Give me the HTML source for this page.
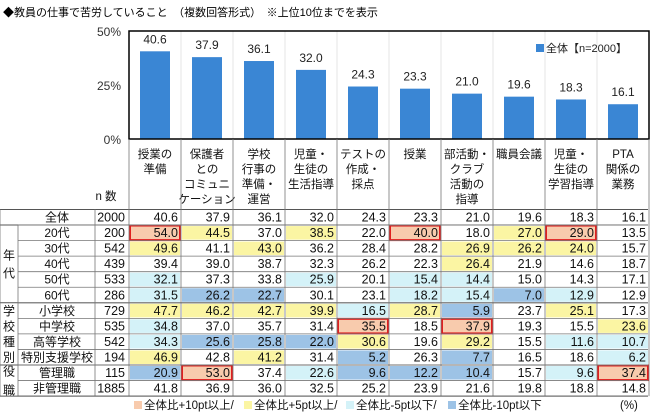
<!DOCTYPE html>
<html><head><meta charset="utf-8"><style>
body{margin:0;background:#fff;width:650px;height:413px;overflow:hidden}
svg{display:block;font-family:"Liberation Sans","Noto Sans CJK JP",sans-serif}
</style></head><body>
<svg id="c" width="650" height="413"></svg>
<script>
const categories=[["授業の","準備"],["保護者","との","コミュニ","ケーション"],["学校","行事の","準備・","運営"],["児童・","生徒の","生活指導"],["テストの","作成・","採点"],["授業"],["部活動・","クラブ","活動の","指導"],["職員会議"],["児童・","生徒の","学習指導"],["PTA","関係の","業務"]];
const totalValues=[40.6,37.9,36.1,32.0,24.3,23.3,21.0,19.6,18.3,16.1];
const yTicks=[0,25,50];
const rowLabels=["全体","20代","30代","40代","50代","60代","小学校","中学校","高等学校","特別支援学校","管理職","非管理職"];
const rowN=[2000,200,542,439,533,286,729,535,542,194,115,1885];
const rowValues=[
[40.6,37.9,36.1,32.0,24.3,23.3,21.0,19.6,18.3,16.1],
[54.0,44.5,37.0,38.5,22.0,40.0,18.0,27.0,29.0,13.5],
[49.6,41.1,43.0,36.2,28.4,28.2,26.9,26.2,24.0,15.7],
[39.4,39.0,38.7,32.3,26.2,22.3,26.4,21.9,14.6,18.7],
[32.1,37.3,33.8,25.9,20.1,15.4,14.4,15.0,14.3,17.1],
[31.5,26.2,22.7,30.1,23.1,18.2,15.4,7.0,12.9,12.9],
[47.7,46.2,42.7,39.9,16.5,28.7,5.9,23.7,25.1,17.3],
[34.8,37.0,35.7,31.4,35.5,18.5,37.9,19.3,15.5,23.6],
[34.3,25.6,25.8,22.0,30.6,19.6,29.2,15.5,11.6,10.7],
[46.9,42.8,41.2,31.4,5.2,26.3,7.7,16.5,18.6,6.2],
[20.9,53.0,37.4,22.6,9.6,12.2,10.4,15.7,9.6,37.4],
[41.8,36.9,36.0,32.5,25.2,23.9,21.6,19.8,18.8,14.8]];
const rowMarks=["----------","oy-y-o-yo-","y-y---yyy-","------y---","c--c-cc---","cbb--ccbc-","yyyycyb-y-","c---o-o--y","cbbby-y-cc","y-y-b-b--c","bo-cbbb-co","----------"];
const groups=[["年","代",1,5],["学","校","種","別",6,9],["役","職",10,11]];
const NS="http://www.w3.org/2000/svg",svg=document.getElementById('c');
function el(t,a,txt){const e=document.createElementNS(NS,t);for(const k in a)e.setAttribute(k,a[k]);if(txt!==undefined)e.textContent=txt;svg.appendChild(e);return e;}
const X0=129,CW=52,PT=31,PB=139;
const colX=i=>X0+i*CW, colC=i=>X0+i*CW+CW/2;
const yS=v=>PB-(v/50)*(PB-PT);
let t=el('text',{x:3,y:16,'font-size':11,fill:'#000'},'◆教員の仕事で苦労していること　（複数回答形式）　※上位10位までを表示');


for(let i=1;i<10;i++){const l=el('line',{x1:colX(i),x2:colX(i),y1:PT,y2:PB,stroke:'#e4e4e4'});}
yTicks.forEach(v=>{const tt=el('text',{x:121,y:yS(v)+5,'font-size':12,'text-anchor':'end',fill:'#333'},v+'%');});
totalValues.forEach((v,i)=>{
 const b=el('rect',{x:colC(i)-15,y:yS(v),width:30,height:PB-yS(v),fill:'#3a86d4'});
 
 
 const lb=el('text',{x:colC(i),y:yS(v)-8,'font-size':12,'text-anchor':'middle',fill:'#222'},v.toFixed(1));
 
 
});
let pb=el('rect',{x:X0,y:PT,width:CW*10,height:PB-PT,fill:'none',stroke:'#000','stroke-width':1.5});

let lg=el('rect',{x:536,y:44,width:8,height:8,fill:'#3a86d4'});
let lt=el('text',{x:546,y:52,'font-size':11,fill:'#222'},'全体【n=2000】');
const RT=209.5,RH=15.55,TB=RT+RH*12;
const fills={o:'#f8cbad',y:'#fbf5a3',c:'#d4f2f8',b:'#9dc3e6'};
categories.forEach((lines,i)=>{lines.forEach((s,j)=>{const h=el('text',{x:colC(i),y:158+j*15,'font-size':11.5,'text-anchor':'middle',fill:'#111'},s);});});
let nh=el('text',{x:106,y:200,'font-size':11.5,'text-anchor':'middle',fill:'#111'},'n 数');
rowValues.forEach((row,r)=>{
 const y=RT+r*RH;
 row.forEach((v,i)=>{
  const m=rowMarks[r][i];
  if(m!=='-'){const f=el('rect',{x:colX(i)+1,y:y+1,width:CW-2,height:RH-2,fill:fills[m]});}
  if(m==='o'){const f=el('rect',{x:colX(i)+1,y:y+0.5,width:CW-2,height:RH-1,fill:'none',stroke:'#e02020','stroke-width':2});}
  const c=el('text',{x:colX(i)+CW-3,y:y+12,'font-size':12.5,'text-anchor':'end',fill:'#111'},v.toFixed(1));
  
  
 });
 const n=el('text',{x:125,y:y+12,'font-size':12.5,'text-anchor':'end',fill:'#111'},rowN[r]);
 
 const rl=el('text',{x:57,y:y+12,'font-size':12,'text-anchor':'middle',fill:'#111'},rowLabels[r]);
 
});
groups.forEach(g=>{const a=g[g.length-2],b=g[g.length-1],chars=g.slice(0,g.length-2);
 const top=RT+a*RH,bot=RT+(b+1)*RH,mid=(top+bot)/2,step=chars.length===4?15.5:(b-a>2?18:19);
 chars.forEach((ch,k)=>{const cy=mid+(k-(chars.length-1)/2)*step;const gt=el('text',{x:9,y:cy+4.5,'font-size':12,'text-anchor':'middle',fill:'#111'},ch);});
 const gl=el('line',{x1:0,x2:648,y1:top,y2:top,stroke:'#555'});
});
for(let r=1;r<=12;r++){const y=RT+r*RH;const l=el('line',{x1:18,x2:648,y1:y,y2:y,stroke:'#777','stroke-width':0.8});}
let tl=el('line',{x1:0,x2:648,y1:RT,y2:RT,stroke:'#555'});
for(let i=0;i<=10;i++){const l=el('line',{x1:colX(i),x2:colX(i),y1:PB,y2:TB,stroke:'#777','stroke-width':0.8});}
[[0,RT],[18,RT+RH],[95,RT]].forEach(p=>{const l=el('line',{x1:p[0],x2:p[0],y1:p[1],y2:TB,stroke:'#777','stroke-width':0.8});});
let bl=el('line',{x1:0,x2:648,y1:TB,y2:TB,stroke:'#555'});
const fl=[['o','全体比+10pt以上/'],['y','全体比+5pt以上/'],['c','全体比-5pt以下/'],['b','全体比-10pt以下']];
let fx=134;
fl.forEach(f=>{const s=el('rect',{x:fx,y:401,width:8,height:8,fill:fills[f[0]]});
 const ft=el('text',{x:fx+10,y:409,'font-size':11.5,fill:'#111'},f[1]);
 fx+=f[0]==='o'?110:102;});
let pc=el('text',{x:620,y:409,'font-size':11.5,fill:'#111'},'(%)');
</script></body></html>
